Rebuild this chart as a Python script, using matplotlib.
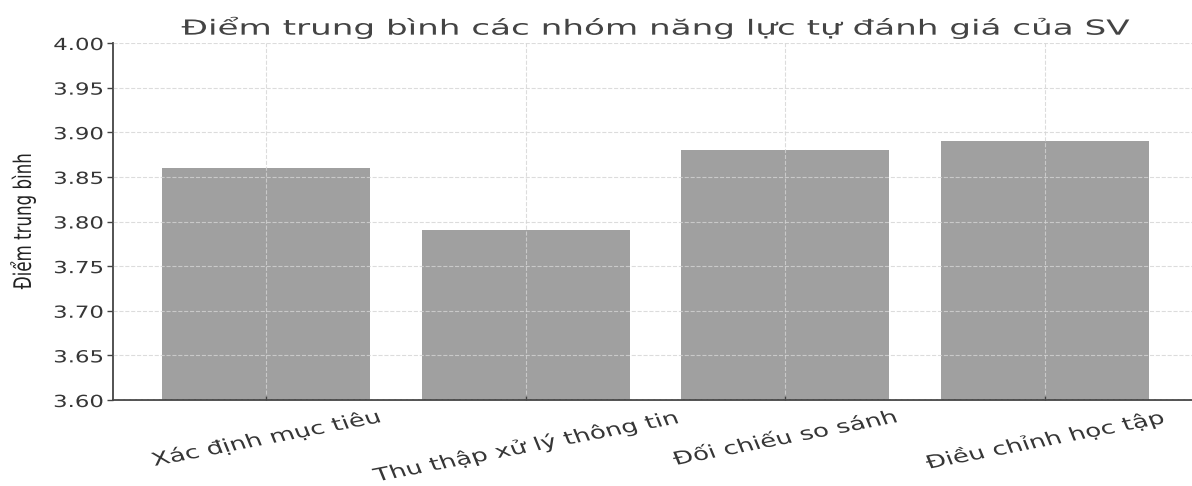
import numpy as np
import matplotlib
matplotlib.use("Agg")
import matplotlib.pyplot as plt
import matplotlib.patheffects as pe
from matplotlib.transforms import Affine2D

categories = ["Xác định mục tiêu", "Thu thập xử lý thông tin",
              "Đối chiếu so sánh", "Điều chỉnh học tập"]
values = [3.86, 3.79, 3.88, 3.89]
yticks = [3.60, 3.65, 3.70, 3.75, 3.80, 3.85, 3.90, 3.95, 4.00]

title = "Điểm trung bình các nhóm năng lực tự đánh giá của SV"
ylabel = "Điểm trung bình"


class HStretch(pe.AbstractPathEffect):
    """Widen text horizontally around its left/centre/right edge."""
    def __init__(self, sx, anchor="center"):
        super().__init__()
        self.sx = sx
        self.anchor = anchor

    def draw_path(self, renderer, gc, tpath, affine, rgbFace=None):
        box = tpath.get_extents(affine)
        if self.anchor == "right":
            cx = box.x1
        elif self.anchor == "left":
            cx = box.x0
        else:
            cx = (box.x0 + box.x1) / 2
        wide = Affine2D().translate(-cx, 0).scale(self.sx, 1).translate(cx, 0)
        renderer.draw_path(gc, tpath, affine + wide, rgbFace)


txt = "#363636"
fig = plt.figure(figsize=(11.92, 4.86), dpi=100)
ax = fig.add_axes([113 / 1192, 1 - 400 / 486, 1085 / 1192, 357 / 486])

x = np.arange(len(categories))
ax.bar(x, values, width=0.8, color="#a0a0a0", zorder=1)
ax.set_ylim(3.60, 4.00)
ax.set_yticks(yticks)
ax.set_yticklabels([f"{v:.2f}" for v in yticks])

ax.grid(True, color="#d4d4d4", linestyle="--", linewidth=0.8, alpha=0.8)
ax.set_axisbelow(False)

for s in ["top", "right"]:
    ax.spines[s].set_visible(False)
for s in ["left", "bottom"]:
    ax.spines[s].set_color("#444444")
    ax.spines[s].set_linewidth(1.3)

ax.tick_params(axis="y", direction="out", length=4, width=1, color="#444444",
               pad=3, labelsize=12, labelcolor=txt)
ax.tick_params(axis="x", direction="in", length=3, width=1, color="#444444",
               pad=6, labelsize=13, labelcolor=txt)

ax.set_xticks(x)
ax.set_xticklabels(categories, rotation=15.7, ha="center")

for lab in ax.get_xticklabels():
    lab.set_path_effects([HStretch(1.45, "center")])
for lab in ax.get_yticklabels():
    lab.set_path_effects([HStretch(1.37, "right")])

t = ax.set_title(title, fontsize=15, color="#444444", pad=6)
t.set_path_effects([HStretch(1.64, "center")])

yl = ax.set_ylabel(ylabel, fontsize=12, color="#222222")
yl.set_path_effects([HStretch(1.45, "center")])
ax.yaxis.set_label_coords(-0.0742, 0.5)

fig.savefig("out.png", dpi=100)
